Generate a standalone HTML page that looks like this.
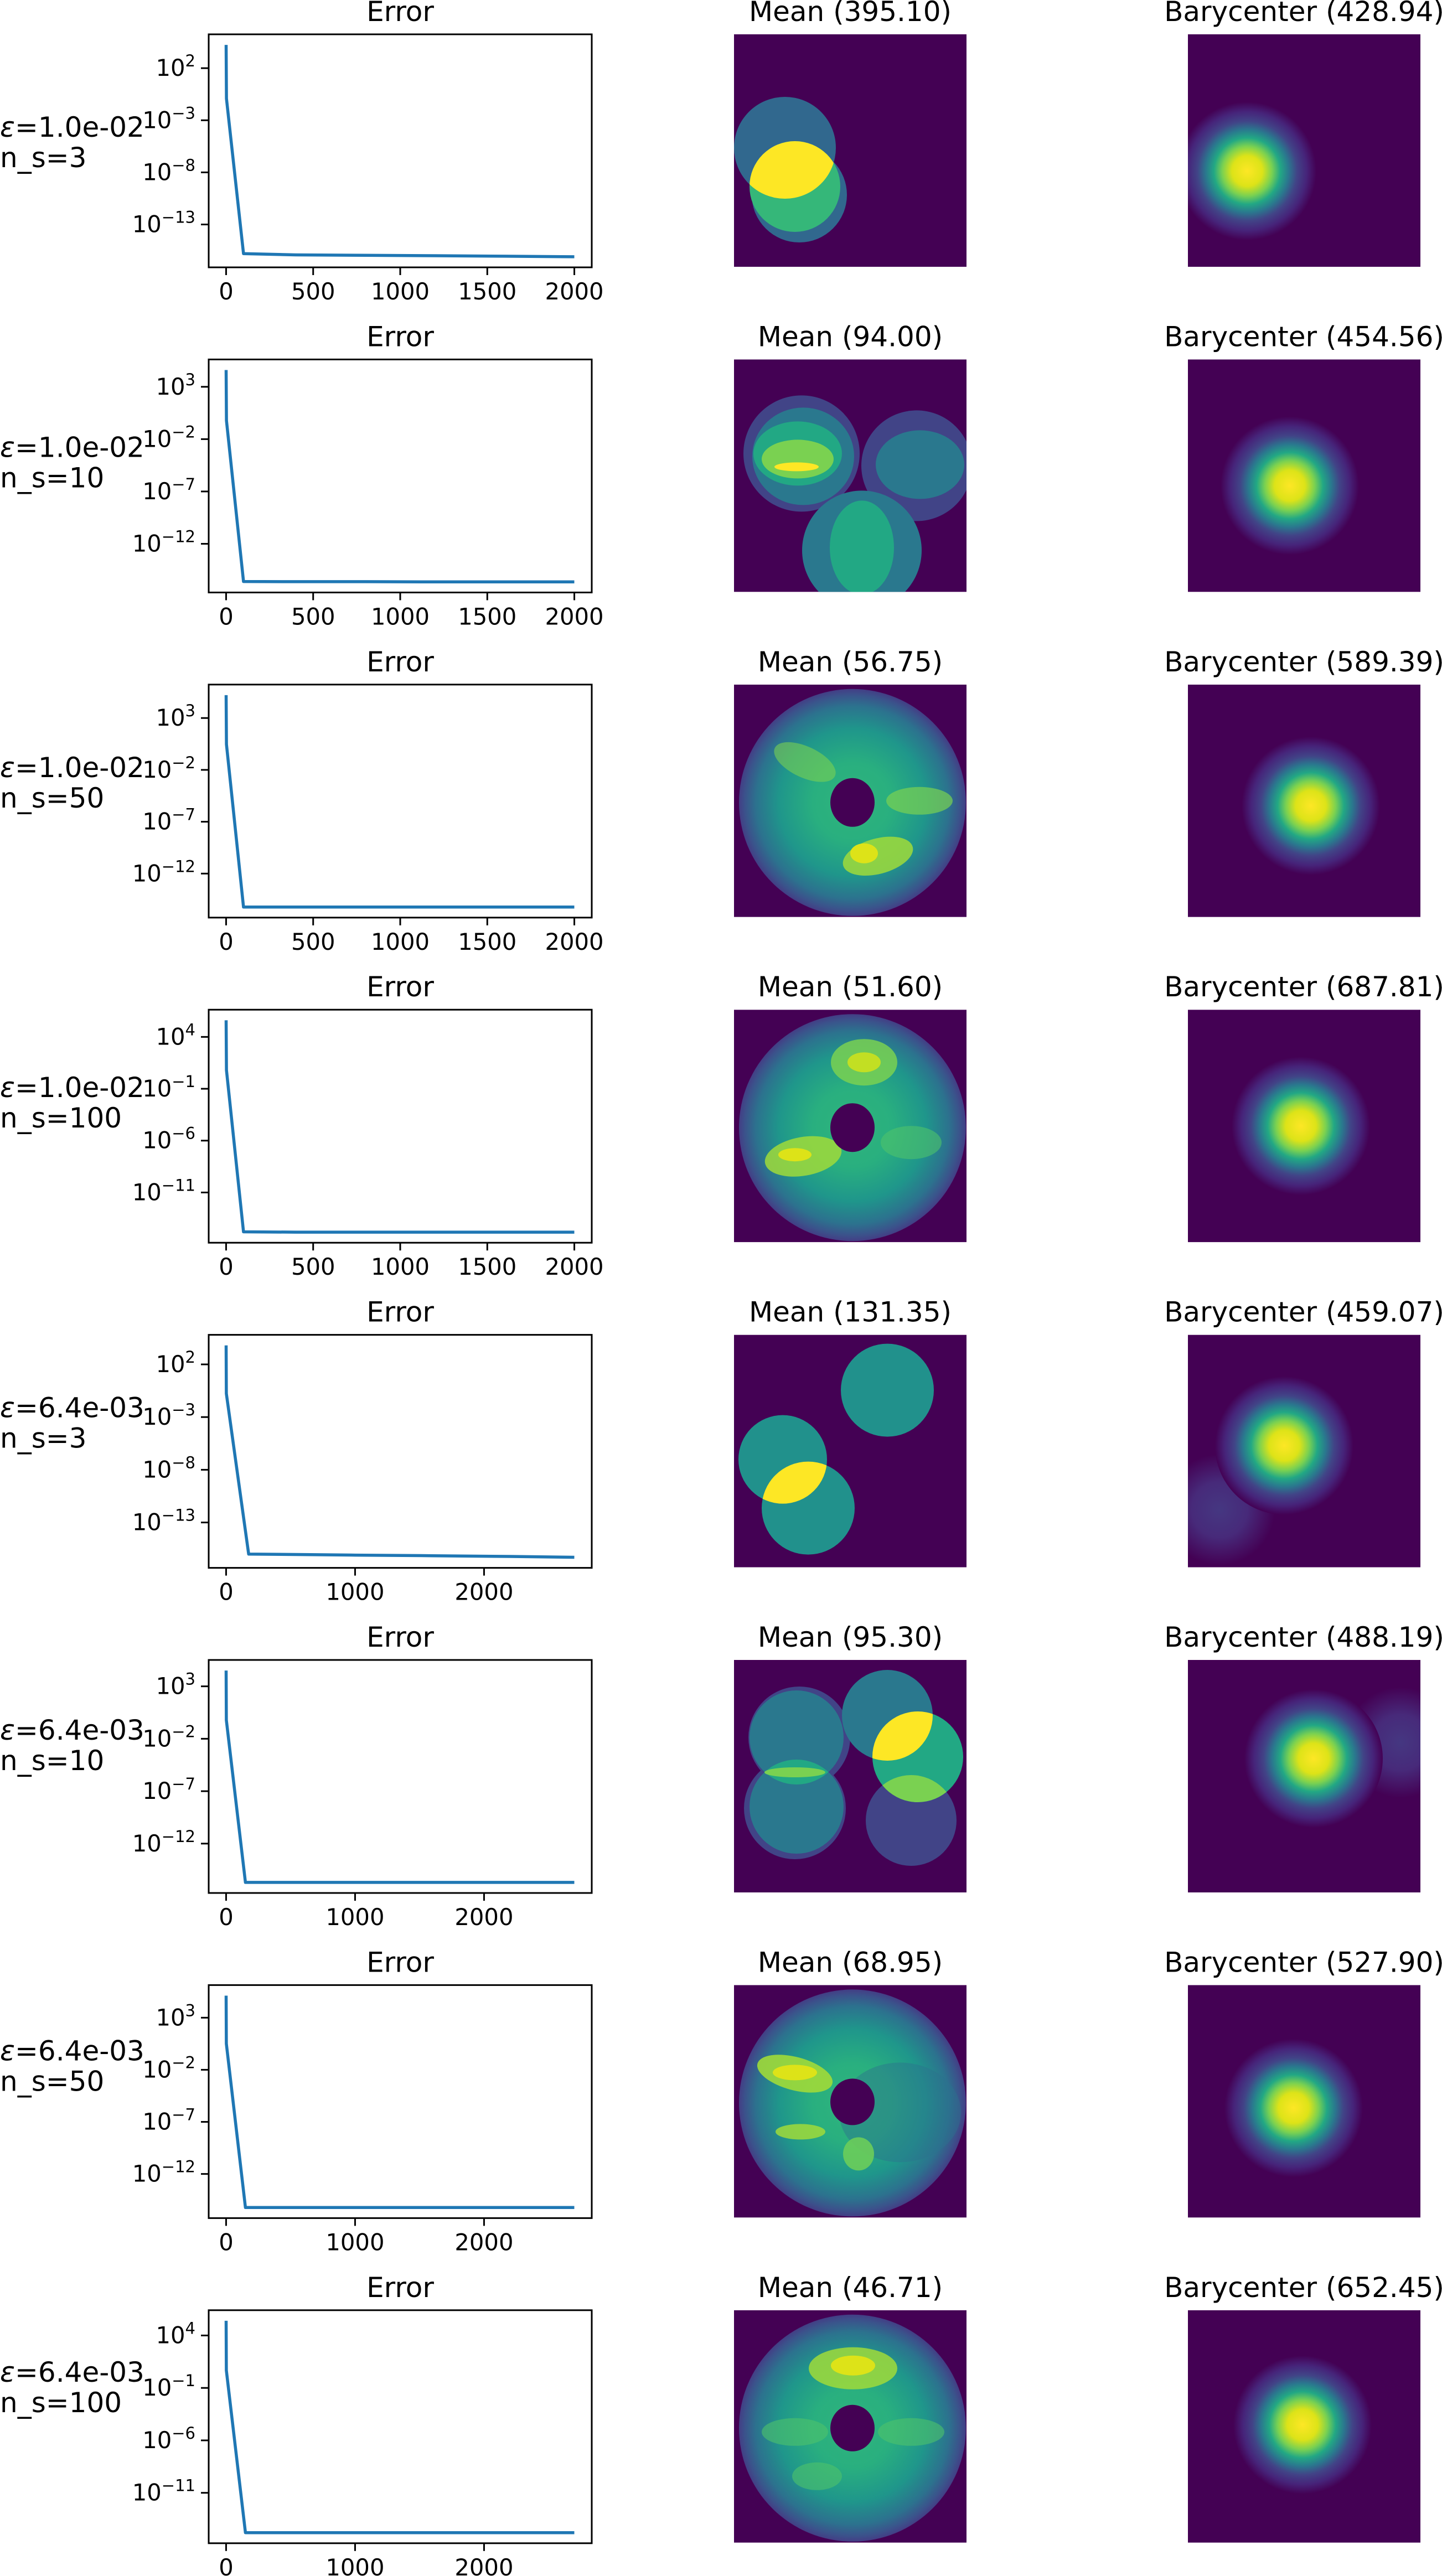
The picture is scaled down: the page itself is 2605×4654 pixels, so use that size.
<!DOCTYPE html>
<html><head><meta charset="utf-8"><style>
html,body{margin:0;padding:0;background:#fff;}
svg{display:block;}
text{font-family:"DejaVu Sans","Liberation Sans",sans-serif;fill:#000;}
</style></head>
<body>
<svg id="fig" xmlns="http://www.w3.org/2000/svg" width="2605" height="4654" viewBox="0 0 2605 4654">
<defs>
  <radialGradient id="bary" cx="0.5" cy="0.5" r="0.5">
    <stop offset="0" stop-color="#fde725"/>
    <stop offset="0.22" stop-color="#dde318"/>
    <stop offset="0.36" stop-color="#7ad151"/>
    <stop offset="0.48" stop-color="#22a884"/>
    <stop offset="0.6" stop-color="#2a788e"/>
    <stop offset="0.72" stop-color="#414487"/>
    <stop offset="0.86" stop-color="#46247a"/>
    <stop offset="1" stop-color="#440154"/>
  </radialGradient>
  <radialGradient id="faintg" cx="0.5" cy="0.5" r="0.5">
    <stop offset="0" stop-color="#453781"/>
    <stop offset="0.5" stop-color="#472a7a"/>
    <stop offset="1" stop-color="#440154"/>
  </radialGradient>
  <radialGradient id="ring" cx="0.5" cy="0.5" r="0.5">
    <stop offset="0" stop-color="#2fb47c"/>
    <stop offset="0.35" stop-color="#29af7f"/>
    <stop offset="0.65" stop-color="#1f968b"/>
    <stop offset="0.85" stop-color="#2c728e"/>
    <stop offset="0.95" stop-color="#3b528b"/>
    <stop offset="1" stop-color="#433e85"/>
  </radialGradient>
  <clipPath id="m1A"><circle cx="92" cy="205" r="92"/></clipPath>
  <clipPath id="m5L"><circle cx="88" cy="225" r="80"/></clipPath>
  <clipPath id="m6A"><circle cx="277" cy="100" r="82"/></clipPath>
  <clipPath id="m6C"><circle cx="320" cy="290" r="82"/></clipPath>
  <clipPath id="m6D"><circle cx="113" cy="140" r="85"/></clipPath>
</defs>
<g id="plots"></g>
<g id="images"></g>
</svg>
<script>
// ---- data ----
const rowEps = ["1.0e-02","1.0e-02","1.0e-02","1.0e-02","6.4e-03","6.4e-03","6.4e-03","6.4e-03"];
const rowNs = [3,10,50,100,3,10,50,100];
const meanVals = ["395.10","94.00","56.75","51.60","131.35","95.30","68.95","46.71"];
const baryVals = ["428.94","454.56","589.39","687.81","459.07","488.19","527.90","652.45"];
const iters0 = [0,2,100,400,800,1200,1600,2000];
const iters1 = [0,2,100,400,800,1200,1600,2000];
const iters2 = [0,2,100,400,800,1200,1600,2000];
const iters3 = [0,2,100,400,800,1200,1600,2000];
const iters4 = [0,2,175,600,1000,1600,2200,2700];
const iters5 = [0,2,150,600,1000,1600,2200,2700];
const iters6 = [0,2,150,600,1000,1600,2200,2700];
const iters7 = [0,2,150,600,1000,1600,2200,2700];
const err0 = [1.7e4,1.2e-1,1.6e-16,1.2e-16,1.1e-16,1.0e-16,9e-17,8e-17];
const err1 = [4e4,6e-1,2.5e-16,2.4e-16,2.4e-16,2.3e-16,2.3e-16,2.3e-16];
const err2 = [1.6e5,2.9,6e-16,6e-16,6e-16,6e-16,6e-16,6e-16];
const err3 = [4e5,6.3,1.6e-15,1.5e-15,1.5e-15,1.5e-15,1.5e-15,1.5e-15];
const err4 = [6.3e3,1.7e-1,1e-16,9e-17,8e-17,7e-17,6e-17,5e-17];
const err5 = [3.2e4,6e-1,2e-16,2e-16,2e-16,2e-16,2e-16,2e-16];
const err6 = [1.3e5,3.2,6e-16,6e-16,6e-16,6e-16,6e-16,6e-16];
const err7 = [2.5e5,4.7,1.6e-15,1.6e-15,1.6e-15,1.6e-15,1.6e-15,1.6e-15];
const allIters = [iters0,iters1,iters2,iters3,iters4,iters5,iters6,iters7];
const allErr = [err0,err1,err2,err3,err4,err5,err6,err7];
const yTickExp0 = [2,-3,-8,-13];
const yTickExp1 = [3,-2,-7,-12];
const yTickExp2 = [4,-1,-6,-11];
const rowYTicks = [yTickExp0,yTickExp1,yTickExp1,yTickExp2,yTickExp0,yTickExp1,yTickExp1,yTickExp2];
const xTicksA = [0,500,1000,1500,2000];
const xTicksB = [0,1000,2000];
const rowXTicks = [xTicksA,xTicksA,xTicksA,xTicksA,xTicksB,xTicksB,xTicksB,xTicksB];
const labelOffsets = [185,176,167,158,149,144,136,129];

// ---- layout ----
const NS = "http://www.w3.org/2000/svg";
const T0 = 62, PITCH = 587.4, AX_L = 377, AX_W = 692, AX_H = 421;
const MEAN_X = 1326, BARY_X = 2146, IMG = 420;
const plots = document.getElementById('plots');
function mk(tag, attrs, parent){
  const e = document.createElementNS(NS, tag);
  for (const k in attrs) e.setAttribute(k, attrs[k]);
  parent.appendChild(e);
  return e;
}

for (let i = 0; i < 8; i++){
  const top = T0 + i*PITCH;
  const its = allIters[i], errs = allErr[i];
  const N = its[its.length-1];
  const xmin = -0.05*N, xmax = 1.05*N;
  const xs = v => AX_L + (v - xmin)/(xmax - xmin)*AX_W;
  const logs = errs.map(v => Math.log10(v));
  const lo = Math.min(...logs), hi = Math.max(...logs);
  const pad = 0.05*(hi - lo);
  const ylo = lo - pad, yhi = hi + pad;
  const ys = e => top + (yhi - e)/(yhi - ylo)*AX_H;

  const g = mk('g', {}, plots);
  
  

  const title = mk('text', {x: AX_L + AX_W/2, y: top - 24, 'text-anchor': 'middle', 'font-size': 50}, g);
  title.textContent = 'Error';
  
  

  const lab = mk('text', {x: 0, y: top + labelOffsets[i], 'font-size': 50}, g);
  
  
  const t1 = mk('tspan', {x: 0, 'font-style': 'italic'}, lab); t1.textContent = 'ε';
  const t2 = mk('tspan', {}, lab); t2.textContent = '=' + rowEps[i];
  const t3 = mk('tspan', {x: 0, dy: 55}, lab); t3.textContent = 'n_s=' + rowNs[i];

  const pts = its.map((v, k) => xs(v).toFixed(1) + ',' + ys(logs[k]).toFixed(1)).join(' ');
  const line = mk('polyline', {points: pts, fill: 'none', stroke: '#1f77b4', 'stroke-width': 5.5, 'stroke-linejoin': 'round'}, g);
  
  

  const frame = mk('rect', {x: AX_L, y: top, width: AX_W, height: AX_H, fill: 'none', stroke: '#000', 'stroke-width': 3}, g);
  
  

  rowYTicks[i].forEach(e => {
    const yy = ys(e);
    const tk = mk('line', {x1: AX_L - 14, x2: AX_L, y1: yy, y2: yy, stroke: '#000', 'stroke-width': 3}, g);
    
    
    const tl = mk('text', {x: AX_L - 24, y: yy + 14, 'text-anchor': 'end', 'font-size': 41.7}, g);
    
    
    const a = mk('tspan', {}, tl); a.textContent = '10';
    const b = mk('tspan', {dy: -17, 'font-size': 29}, tl); b.textContent = (e < 0 ? '\u2212' + (-e) : '' + e);
  });
  rowXTicks[i].forEach(v => {
    const xx = xs(v);
    const tk = mk('line', {x1: xx, x2: xx, y1: top + AX_H, y2: top + AX_H + 14, stroke: '#000', 'stroke-width': 3}, g);
    
    
    const tl = mk('text', {x: xx, y: top + AX_H + 58, 'text-anchor': 'middle', 'font-size': 41.7}, g);
    
    
    tl.textContent = String(v);
  });

  const mt = mk('text', {x: MEAN_X + IMG/2, y: top - 24, 'text-anchor': 'middle', 'font-size': 50}, g);
  mt.textContent = 'Mean (' + meanVals[i] + ')';
  
  
  const bt = mk('text', {x: BARY_X + IMG/2, y: top - 24, 'text-anchor': 'middle', 'font-size': 50}, g);
  bt.textContent = 'Barycenter (' + baryVals[i] + ')';
  
  
}

const D='#440154';
const meanShapes = [
 `<circle cx="92" cy="205" r="92" fill="#31688e"/><circle cx="118" cy="290" r="86" fill="#31688e"/>
  <circle cx="110" cy="275" r="82" fill="#35b779"/>
  <g clip-path="url(#m1A)"><circle cx="110" cy="275" r="82" fill="#fde725"/></g>`,
 `<circle cx="122" cy="170" r="105" fill="#414487"/><ellipse cx="125" cy="175" rx="92" ry="88" fill="#2a788e"/>
  <ellipse cx="115" cy="170" rx="80" ry="58" fill="#22a884"/><ellipse cx="115" cy="180" rx="65" ry="35" fill="#7ad151"/>
  <ellipse cx="113" cy="194" rx="40" ry="8" fill="#fde725"/>
  <circle cx="330" cy="192" r="100" fill="#414487"/><ellipse cx="336" cy="190" rx="80" ry="62" fill="#2a788e"/>
  <circle cx="231" cy="345" r="108" fill="#2a788e"/><ellipse cx="231" cy="340" rx="58" ry="85" fill="#22a884"/>`,
 `<circle cx="214" cy="213" r="205" fill="url(#ring)"/>
  <ellipse cx="128" cy="140" rx="60" ry="28" fill="#7ad151" opacity="0.6" transform="rotate(25 128 140)"/>
  <ellipse cx="335" cy="210" rx="60" ry="25" fill="#7ad151" opacity="0.7"/>
  <ellipse cx="260" cy="310" rx="65" ry="32" fill="#a0da39" opacity="0.85" transform="rotate(-15 260 310)"/>
  <ellipse cx="235" cy="305" rx="25" ry="18" fill="#dde318"/>
  <ellipse cx="214" cy="213" rx="40" ry="44" fill="${D}"/>`,
 `<circle cx="214" cy="213" r="205" fill="url(#ring)"/>
  <ellipse cx="125" cy="265" rx="70" ry="35" fill="#a0da39" opacity="0.85" transform="rotate(-10 125 265)"/>
  <ellipse cx="110" cy="262" rx="30" ry="12" fill="#dde318"/>
  <ellipse cx="235" cy="95" rx="60" ry="42" fill="#7ad151" opacity="0.85"/>
  <ellipse cx="235" cy="95" rx="30" ry="18" fill="#c2df23"/>
  <ellipse cx="320" cy="240" rx="55" ry="30" fill="#4ec36b" opacity="0.6"/>
  <ellipse cx="214" cy="213" rx="40" ry="44" fill="${D}"/>`,
 `<circle cx="277" cy="100" r="84" fill="#21918c"/><circle cx="88" cy="225" r="80" fill="#21918c"/>
  <circle cx="134" cy="313" r="84" fill="#21918c"/>
  <g clip-path="url(#m5L)"><circle cx="134" cy="313" r="84" fill="#fde725"/></g>`,
 `<circle cx="118" cy="140" r="92" fill="#414487"/><circle cx="110" cy="268" r="92" fill="#414487"/>
  <circle cx="113" cy="140" r="85" fill="#2a788e"/><circle cx="113" cy="265" r="85" fill="#2a788e"/>
  <g clip-path="url(#m6D)"><circle cx="113" cy="265" r="85" fill="#22a884"/></g>
  <ellipse cx="110" cy="203" rx="55" ry="9" fill="#7ad151"/>
  <circle cx="277" cy="100" r="82" fill="#2a788e"/><circle cx="320" cy="290" r="82" fill="#414487"/>
  <circle cx="332" cy="175" r="82" fill="#22a884"/>
  <g clip-path="url(#m6A)"><circle cx="332" cy="175" r="82" fill="#fde725"/></g>
  <g clip-path="url(#m6C)"><circle cx="332" cy="175" r="82" fill="#7ad151"/></g>`,
 `<circle cx="214" cy="213" r="205" fill="url(#ring)"/>
  <ellipse cx="300" cy="230" rx="110" ry="90" fill="#2c728e" opacity="0.45"/>
  <ellipse cx="110" cy="160" rx="70" ry="30" fill="#a0da39" opacity="0.9" transform="rotate(15 110 160)"/>
  <ellipse cx="110" cy="158" rx="40" ry="14" fill="#dde318"/>
  <ellipse cx="120" cy="265" rx="45" ry="14" fill="#a0da39" opacity="0.85"/>
  <ellipse cx="225" cy="305" rx="28" ry="30" fill="#6ccd5a" opacity="0.9"/>
  <ellipse cx="214" cy="211" rx="40" ry="42" fill="${D}"/>`,
 `<circle cx="214" cy="213" r="205" fill="url(#ring)"/>
  <ellipse cx="215" cy="105" rx="80" ry="38" fill="#a0da39" opacity="0.85"/>
  <ellipse cx="215" cy="100" rx="40" ry="18" fill="#dde318"/>
  <ellipse cx="110" cy="220" rx="60" ry="25" fill="#4ec36b" opacity="0.6"/>
  <ellipse cx="320" cy="220" rx="60" ry="25" fill="#4ec36b" opacity="0.6"/>
  <ellipse cx="150" cy="300" rx="45" ry="25" fill="#4ec36b" opacity="0.6"/>
  <ellipse cx="214" cy="213" rx="40" ry="42" fill="${D}"/>`
];
const baryCx = [107,184,222,204,174,227,191,207];
const baryCy = [247,228,219,210,200,178,222,207];
const faint = [null,null,null,null,[57,316],[384,149],null,null];

const imgs = document.getElementById('images');
let html = '';
for (let i = 0; i < 8; i++){
  const top = T0 + i*PITCH;
  html += `<svg x="${MEAN_X}" y="${top}" width="${IMG}" height="${IMG}" viewBox="0 0 420 420"><rect width="420" height="420" fill="${D}"/>${meanShapes[i]}</svg>`;
  let fb = '';
  if (faint[i]) fb = `<circle cx="${faint[i][0]}" cy="${faint[i][1]}" r="100" fill="url(#faintg)"/>`;
  html += `<svg x="${BARY_X}" y="${top}" width="${IMG}" height="${IMG}" viewBox="0 0 420 420"><rect width="420" height="420" fill="${D}"/>${fb}<circle cx="${baryCx[i]}" cy="${baryCy[i]}" r="125" fill="url(#bary)"/></svg>`;
}
imgs.innerHTML = html;
</script>
</body></html>
